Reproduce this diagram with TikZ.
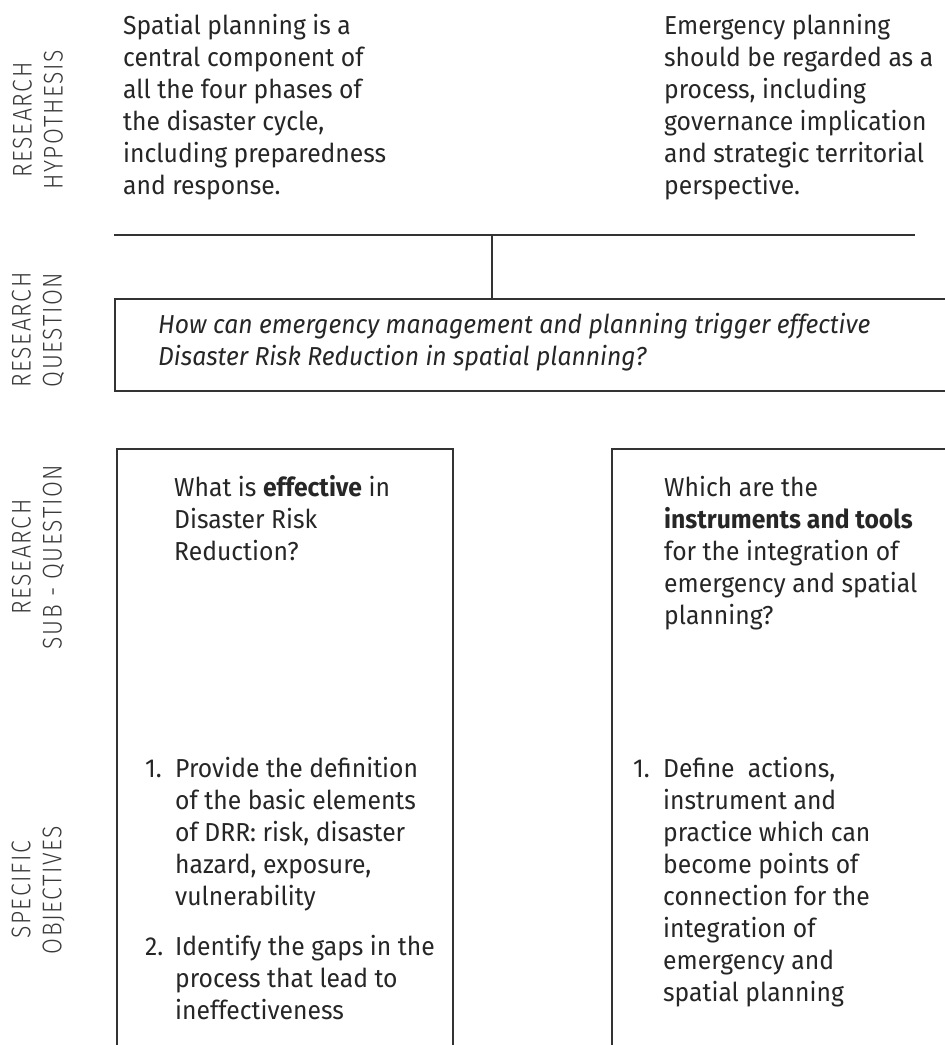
\documentclass[tikz,border=0pt]{standalone}
\usepackage{fontspec}
\setmainfont{Fira Sans}[FakeStretch=0.95]
\newfontfamily\sidefont{Fira Sans Light}[FakeStretch=0.85,LetterSpace=6]
\definecolor{ink}{HTML}{262626}
\definecolor{rulegray}{HTML}{333333}
\definecolor{sidegray}{HTML}{3A3A3A}

\begin{document}
\begin{tikzpicture}[x=1pt,y=-1pt,
  body/.style={anchor=north west, inner sep=0pt, align=left, text=ink,
    font=\fontsize{26}{32}\selectfont, execute at begin node=\strut},
  sidelabel/.style={rotate=90, align=center, inner sep=0pt, text=sidegray,
    font=\sidefont\fontsize{27}{31}\selectfont},
  frame/.style={draw=rulegray, line width=1.2pt}]

\useasboundingbox (0,0) rectangle (945,1045);

% row labels
\node[sidelabel] (labHyp) at (38,120) {RESEARCH\\HYPOTHESIS};
\node[sidelabel] (labQ)   at (38,330) {RESEARCH\\QUESTION};
\node[sidelabel] (labSub) at (38,557) {RESEARCH\\SUB - QUESTION};
\node[sidelabel] (labObj) at (38,890) {SPECIFIC\\OBJECTIVES};

% hypotheses
\node[body] (hypA) at (123,13.6) {Spatial planning is a\\central component of\\all the four phases of\\the disaster cycle,\\including preparedness\\and response.};
\node[body] (hypB) at (664,13.6) {Emergency planning\\should be regarded as a\\process, including\\governance implication\\and strategic territorial\\perspective.};

% joining lines
\coordinate (joinL) at (114,235);
\coordinate (joinR) at (915,235);
\coordinate (joinM) at (492,235);
\coordinate (qTop) at (492,299);
\draw[frame] (joinL) -- (joinR);
\draw[frame] (joinM) -- (qTop);

% research question
\draw[frame] (946,299) -| (115,391) -- (946,391);
\node[body] (question) at (158,313) {\itshape How can emergency management and planning trigger effective\\\itshape Disaster Risk Reduction in spatial planning?};

% sub-question columns
\draw[frame] (117,1046) |- (453,449) -- (453,1046);
\draw[frame] (612,1046) |- (946,449);

\node[body] (subA) at (174,475.6) {What is \textbf{effective} in\\Disaster Risk\\Reduction?};
\node[body] (subB) at (664,475.6) {Which are the\\\textbf{instruments and tools}\\for the integration of\\emergency and spatial\\planning?};

% specific objectives
\node[body] (objA) at (145,756.6) {\makebox[30pt][l]{1.}Provide the definition\\
\hspace*{30pt}of the basic elements\\
\hspace*{30pt}of DRR: risk, disaster\\
\hspace*{30pt}hazard, exposure,\\
\hspace*{30pt}vulnerability\\[18.7pt]
\makebox[30pt][l]{2.}Identify the gaps in the\\
\hspace*{30pt}process that lead to\\
\hspace*{30pt}ineffectiveness};
\node[body] (objB) at (633,756.6) {\makebox[30pt][l]{1.}Define\ \ actions,\\
\hspace*{30pt}instrument and\\
\hspace*{30pt}practice which can\\
\hspace*{30pt}become points of\\
\hspace*{30pt}connection for the\\
\hspace*{30pt}integration of\\
\hspace*{30pt}emergency and\\
\hspace*{30pt}spatial planning};
\end{tikzpicture}
\end{document}
